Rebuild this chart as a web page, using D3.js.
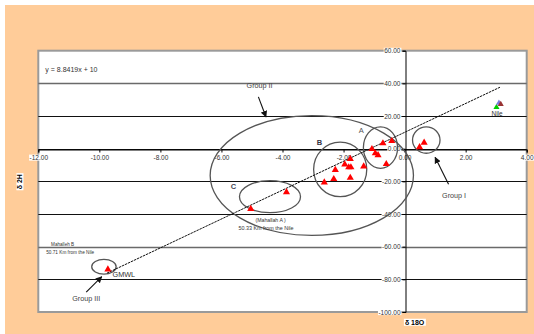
<!DOCTYPE html>
<html>
<head>
<meta charset="utf-8">
<script src="https://cdn.jsdelivr.net/npm/d3@7"></script>
<style>
  body { margin: 0; background: #fff; }
  svg { display: block; font-family: "Liberation Sans", Arial, sans-serif; }
</style>
</head>
<body>
<svg id="chart" width="534" height="334"></svg>
<script>
// ---- data ----
const xTicks = [-12, -10, -8, -6, -4, -2, 0, 2, 4];
const yTicks = [60, 40, 20, 0, -20, -40, -60, -80, -100];

// groundwater samples (δ18O, δ2H)
const sampleD18O = [-0.42, -0.71, -1.07, -0.96, -0.87, -0.60,
                    -1.78, -1.96, -1.83, -1.76, -1.34, -2.27, -2.32, -2.63, -1.78,
                    -3.87, -5.04,
                    0.64, 0.49,
                    -9.72];
const sampleD2H  = [4.7, 3.3, -0.2, -2.8, -4.0, -9.4,
                    -6.3, -9.6, -11.4, -11.4, -10.8, -13.0, -18.6, -20.6, -17.8,
                    -26.6, -36.9,
                    3.7, 0.9,
                    -73.9];

// Nile river samples
const nileD18O = [3.01, 3.09, 3.15];
const nileD2H  = [25.4, 28.0, 27.2];

// fitted meteoric water line y = 8.8419x + 10
const lineSlope = 8.8419;
const lineIntercept = 10;
const lineRange = [-9.75, 3.13];

// grouping ellipses: centre and half-axes in δ18O / δ2H units
const groupNames = ["Group II", "B", "A", "Group I", "C", "Group III"];
const groupCx = [-3.04, -2.11, -0.79, 0.71, -4.41, -9.85];
const groupCy = [-16.4, -12.7, 0.7, 5.3, -29.4, -72.3];
const groupRx = [3.33, 0.87, 0.56, 0.45, 1.0, 0.40];
const groupRy = [36.7, 16.7, 12.7, 8.1, 9.8, 4.5];

// ---- layout ----
const W = 534, H = 334;
const nileColors = ["#00cc00", "#7777dd", "#993333"];
const svg = d3.select("#chart");

svg.append("rect").attr("x", 0).attr("y", 0).attr("width", W).attr("height", H).attr("fill", "#fff");
svg.append("rect").attr("x", 5).attr("y", 5).attr("width", W - 5).attr("height", H - 5).attr("fill", "#FFCC99");

const x = d3.scaleLinear().domain([-12, 4]).range([38.3, 526.7]);
const y = d3.scaleLinear().domain([-100, 60]).range([312, 50.7]);

// tick labels with a plain hyphen for negatives
const fmt2 = v => v.toFixed(2);

// plot area
svg.append("rect")
  .attr("x", x(-12)).attr("y", y(60))
  .attr("width", x(4) - x(-12)).attr("height", y(-100) - y(60))
  .attr("fill", "#fff").attr("stroke", "#9a9a9a").attr("stroke-width", 2);

// horizontal gridlines
const grid = svg.append("g");
yTicks.filter(v => v < 60 && v > -100).forEach(v => {
  const soft = (v === 40 || v === -60);
  grid.append("line")
    .attr("x1", x(-12)).attr("x2", x(4))
    .attr("y1", Math.round(y(v)) + 0.5).attr("y2", Math.round(y(v)) + 0.5)
    .attr("stroke", soft ? "#6a6a6a" : "#111")
    .attr("stroke-width", soft ? 1.6 : 1);
});

// x axis along δ2H = 0
const xAxis = d3.axisBottom(x).tickValues(xTicks).tickSize(3).tickPadding(3).tickFormat(fmt2);
const gx = svg.append("g").attr("transform", `translate(0,${Math.round(y(0)) + 0.5})`).call(xAxis);
gx.select(".domain").attr("stroke", "#000");
gx.selectAll(".tick line").attr("stroke", "#000");
gx.selectAll("text").attr("font-size", 6.5).attr("fill", "#333")
  .attr("font-family", '"Liberation Sans", Arial, sans-serif');

// y axis along δ18O = 0
const yAxis = d3.axisLeft(y).tickValues(yTicks).tickSize(3).tickPadding(2).tickFormat(fmt2);
const gy = svg.append("g").attr("transform", `translate(${Math.round(x(0)) + 0.5},0)`).call(yAxis);
gy.select(".domain").attr("stroke", "#000");
gy.selectAll(".tick line").attr("stroke", "#000");
gy.selectAll("text").attr("font-size", 6.5).attr("fill", "#333")
  .attr("font-family", '"Liberation Sans", Arial, sans-serif');

// white backing behind tick labels
function backLabel(sel) {
  sel.each(function () {
    const node = this;
    const b = node.getBBox();
    d3.select(node.parentNode).insert("rect", () => node)
      .attr("x", b.x - 0.5).attr("y", b.y + 0.5)
      .attr("width", b.width + 1).attr("height", b.height - 1)
      .attr("fill", "#fff");
  });
}
backLabel(gx.selectAll(".tick text"));
backLabel(gy.selectAll(".tick text"));

// grouping ellipses
const ell = svg.append("g");
groupNames.forEach((n, i) => {
  ell.append("ellipse")
    .attr("cx", x(groupCx[i])).attr("cy", y(groupCy[i]))
    .attr("rx", x(groupRx[i]) - x(0)).attr("ry", y(0) - y(groupRy[i]))
    .attr("fill", "none").attr("stroke", "#555").attr("stroke-width", 1.3);
});

// water line
svg.append("line")
  .attr("x1", x(lineRange[0])).attr("y1", y(lineSlope * lineRange[0] + lineIntercept))
  .attr("x2", x(lineRange[1])).attr("y2", y(lineSlope * lineRange[1] + lineIntercept))
  .attr("stroke", "#111").attr("stroke-width", 1).attr("stroke-dasharray", "2.5,0.8");

// sample points
const tri = d3.symbol().type(d3.symbolTriangle).size(22);
svg.append("g").selectAll("path").data(sampleD18O).join("path")
  .attr("d", tri)
  .attr("transform", (d, i) => `translate(${x(d)},${y(sampleD2H[i])})`)
  .attr("fill", "#ff0000");
svg.append("g").selectAll("path").data(nileD18O).join("path")
  .attr("d", d3.symbol().type(d3.symbolTriangle).size(16))
  .attr("transform", (d, i) => `translate(${x(d)},${y(nileD2H[i])})`)
  .attr("fill", (d, i) => nileColors[i]);

// arrows
const defs = svg.append("defs");
defs.append("marker").attr("id", "ah").attr("viewBox", "0 0 10 10")
  .attr("refX", 9).attr("refY", 5).attr("markerWidth", 6).attr("markerHeight", 6)
  .attr("orient", "auto-start-reverse")
  .append("path").attr("d", "M0,0L10,5L0,10z").attr("fill", "#111");

const arrowFrom = [[-4.79, 31.7], [1.44, -21.8], [-10.43, -87.8]];
const arrowTo   = [[-4.54, 19.4], [1.00, -5.3], [-9.92, -78.4]];
arrowFrom.forEach((f, i) => {
  svg.append("line")
    .attr("x1", x(f[0])).attr("y1", y(f[1]))
    .attr("x2", x(arrowTo[i][0])).attr("y2", y(arrowTo[i][1]))
    .attr("stroke", "#111").attr("stroke-width", 1.1)
    .attr("marker-end", "url(#ah)");
});

// annotation text
function note(t, dx, dy, opts) {
  const o = Object.assign({ size: 7, fill: "#444", anchor: "start", weight: "normal" }, opts || {});
  return svg.append("text").attr("x", x(dx)).attr("y", y(dy))
    .attr("dy", "0.35em")
    .attr("font-size", o.size).attr("fill", o.fill)
    .attr("text-anchor", o.anchor).attr("font-weight", o.weight)
    .text(t);
}
note("y = 8.8419x + 10", -11.77, 48.2, { size: 7, fill: "#333" });
note("Group II", -4.75, 38.6, { size: 7.2, anchor: "middle" });
note("A", -1.42, 11.5, { size: 7.5, fill: "#555", anchor: "middle" });
note("B", -2.79, 3.9, { size: 7.5, fill: "#334", anchor: "middle", weight: "bold" });
note("C", -5.61, -23.3, { size: 7.5, fill: "#445", anchor: "middle", weight: "bold" });
note("Group I", 1.62, -28.4, { size: 7.2, anchor: "middle" });
note("Group III", -10.43, -92.0, { size: 7.2, anchor: "middle" });
note("GMWL", -9.57, -77.3, { size: 7.3, fill: "#333" });
note("Nile", 3.03, 21.7, { size: 6.5, fill: "#333", anchor: "middle" });
note("Mahalleh B", -11.58, -58.4, { size: 4.6, fill: "#333" });
note("50.71 Km from the Nile", -11.74, -63.3, { size: 4.7, fill: "#333" });
note("(Mahallah  A )", -4.39, -43.7, { size: 5.2, fill: "#333", anchor: "middle" });
note("50.33 Km from the Nile", -4.54, -48.7, { size: 5.4, fill: "#333", anchor: "middle" });

// axis titles
function title(t, px, py, rot) {
  const g = svg.append("g").attr("transform", `translate(${px},${py}) rotate(${rot})`);
  const tx = g.append("text").attr("text-anchor", "middle").attr("dy", "0.35em")
    .attr("font-size", 7).attr("font-weight", "bold").attr("fill", "#000").text(t);
  const b = tx.node().getBBox();
  g.insert("rect", "text").attr("x", b.x - 1).attr("y", b.y).attr("width", b.width + 2)
    .attr("height", b.height).attr("fill", "#fff");
}
title("δ 18O", x(0) + 10, 322.3, 0);
title("δ 2H", 20, 181.7, -90);
</script>
</body>
</html>
